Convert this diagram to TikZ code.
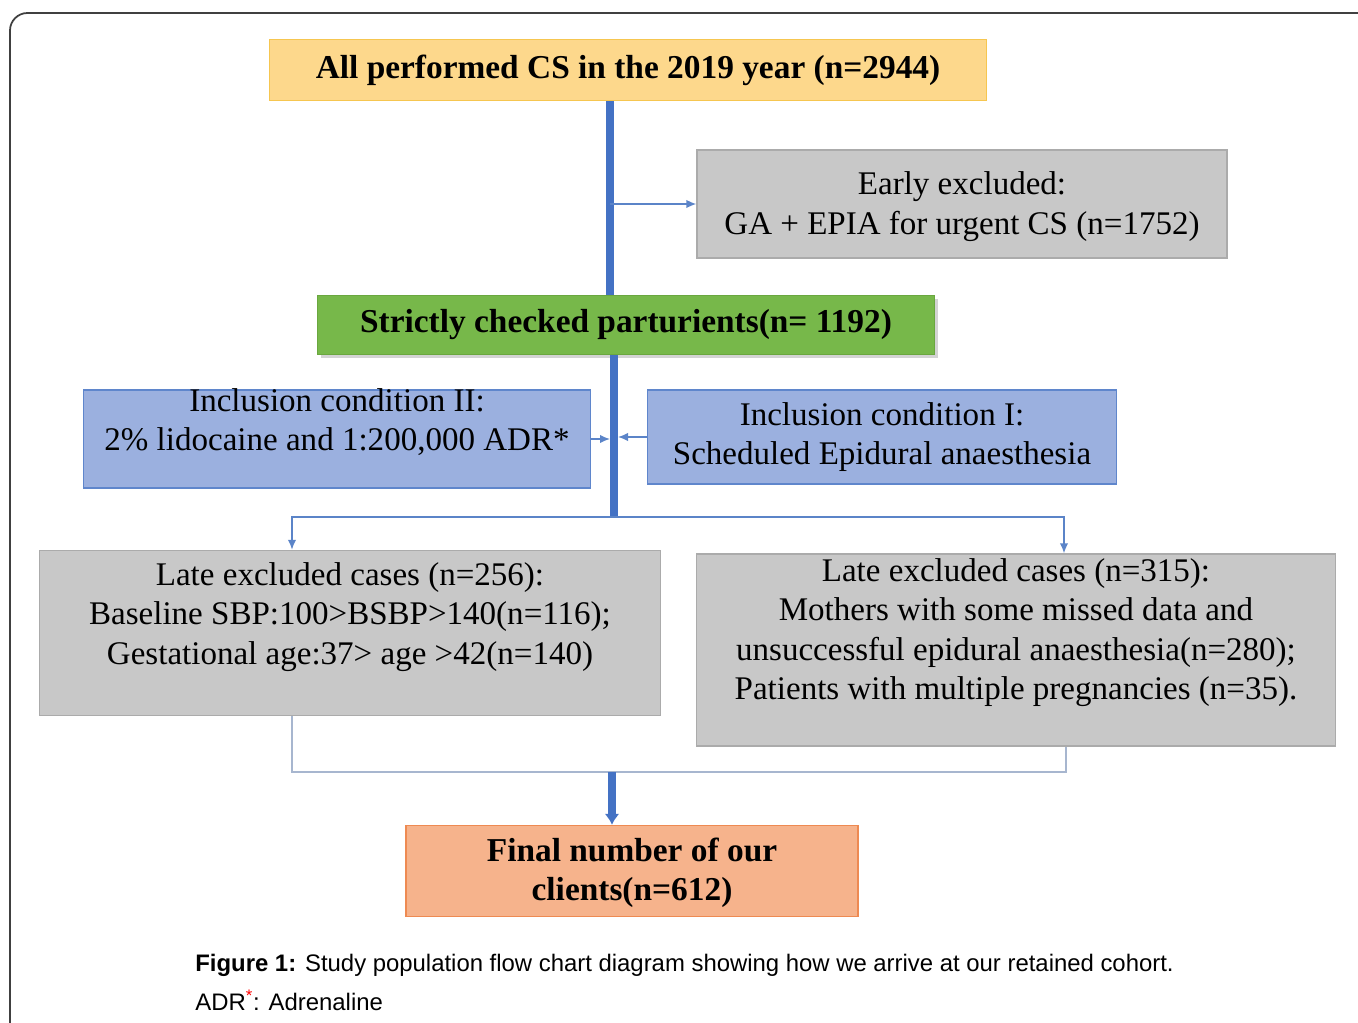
\documentclass[tikz,border=0pt]{standalone}
\usepackage{fontspec}
\setmainfont{Liberation Serif}
\setsansfont{Liberation Sans}
\usetikzlibrary{arrows.meta,shadows}

\definecolor{trunkblue}{HTML}{4472C4}
\definecolor{thinblue}{HTML}{5B84C8}
\definecolor{joinline}{HTML}{A7B6CF}
\definecolor{yellowfill}{HTML}{FDD88C}
\definecolor{yellowdraw}{HTML}{F6C650}
\definecolor{greenfill}{HTML}{77B84A}
\definecolor{greendraw}{HTML}{6AA73F}
\definecolor{bluefill}{HTML}{9BB0DF}
\definecolor{bluedraw}{HTML}{5F86CC}
\definecolor{grayfill}{HTML}{C8C8C8}
\definecolor{graydraw}{HTML}{ABABAB}
\definecolor{orangefill}{HTML}{F6B38C}
\definecolor{orangedraw}{HTML}{EE8A52}

\begin{document}
\begin{tikzpicture}[x=0.02cm, y=-0.02cm,
    stage/.style ={draw, thick, inner sep=0pt, align=flush center,
                   font=\fontsize{19}{22.5}\selectfont\bfseries},
    criterion/.style ={draw, thick, inner sep=0pt, align=flush center,
                   font=\fontsize{18.8}{22.5}\selectfont},
    trunk/.style ={trunkblue, line width=4pt},
    branch/.style ={thinblue, line width=0.9pt, -{Latex[length=2mm,width=1.7mm]}}]
   \useasboundingbox (0,0) rectangle (1358,1023);
   \draw[black!75, line width=1pt, rounded corners=0.35cm] (10,13) rectangle (1400,1060);

   \node[stage, fill=yellowfill, draw=yellowdraw, minimum width=14.34cm, minimum height=1.22cm] (all) at (628,70)
      {All performed CS in the 2019 year (n=2944)};
   \node[criterion, fill=grayfill, draw=graydraw, minimum width=10.6cm, minimum height=2.16cm,
      text width=10.4cm, text height=0.3cm, text depth=0.66cm] (early) at (962,204)
      {Early excluded:\\GA + EPIA for urgent CS (n=1752)};
   \node[stage, fill=greenfill, draw=greendraw, minimum width=12.34cm, minimum height=1.18cm,
      drop shadow={opacity=0.35, shadow xshift=0.07cm, shadow yshift=-0.07cm}] (checked) at (626,325)
      {Strictly checked parturients(n= 1192)};
   \node[criterion, fill=bluefill, draw=bluedraw, minimum width=10.14cm, minimum height=1.96cm,
      text width=9.9cm, text height=0.3cm, text depth=1.42cm] (incII) at (337,439)
      {Inclusion condition II:\\2\% lidocaine and 1:200,000 ADR*};
   \node[criterion, fill=bluefill, draw=bluedraw, minimum width=9.38cm, minimum height=1.88cm] (incI) at (882,437)
      {Inclusion condition I:\\Scheduled Epidural anaesthesia};
   \node[criterion, fill=grayfill, draw=graydraw, minimum width=12.42cm, minimum height=3.3cm,
      text width=12.2cm, text height=0.3cm, text depth=2.22cm] (lateA) at (350,633)
      {Late excluded cases (n=256):\\Baseline SBP:100>BSBP>140(n=116);\\Gestational age:37> age >42(n=140)};
   \node[criterion, fill=grayfill, draw=graydraw, minimum width=12.78cm, minimum height=3.84cm,
      text width=12.6cm, text height=0.3cm, text depth=3.06cm] (lateB) at (1016,650)
      {Late excluded cases (n=315):\\Mothers with some missed data and\\unsuccessful epidural anaesthesia(n=280);\\Patients with multiple pregnancies (n=35).};
   \node[stage, fill=orangefill, draw=orangedraw, minimum width=9.04cm, minimum height=1.82cm,
      text width=8.8cm, text height=0.3cm, text depth=0.7cm] (final) at (632,871)
      {Final number of our\\clients(n=612)};

   \coordinate (upper) at (610,0);
   \coordinate (lower) at (614,517);
   \coordinate (join) at (612,772);

   % main stem
   \draw[trunk] (all.south -| upper) -- (checked.north -| upper);
   \draw[trunk] (checked.south -| lower) -- (lower);
   \draw[branch] (early.west -| upper) -- (early.west);
   \draw[branch] (incII.east) -- ([xshift=-0.08cm]incII.east -| lower);
   \draw[branch] (incI.west) -- ([xshift=0.08cm]incI.west -| lower);

   % split to late exclusions
   \draw[branch] (lower) -- (lower -| 292,0) -- (292,0 |- lateA.north);
   \draw[branch] (lower) -- (lower -| 1064,0) -- (1064,0 |- lateB.north);

   % merge to final
   \draw[joinline, line width=1pt] (292,0 |- lateA.south) -- (292,0 |- join) -- (1066,0 |- join) -- (1066,0 |- lateB.south);
   \draw[trunk, -{Latex[length=2.2mm,width=3mm]}] (join) -- (final.north -| join);

   \node[anchor=west, inner sep=0pt, font=\sffamily\fontsize{13.6}{17}\selectfont] (caption) at (195,965)
      {\textbf{Figure 1:} Study population flow chart diagram showing how we arrive at our retained cohort.};
   \node[anchor=west, inner sep=0pt, font=\sffamily\fontsize{13.6}{17}\selectfont] (note) at (195,1000)
      {ADR\textsuperscript{\textcolor{red}{*}}: Adrenaline};
\end{tikzpicture}
\end{document}
